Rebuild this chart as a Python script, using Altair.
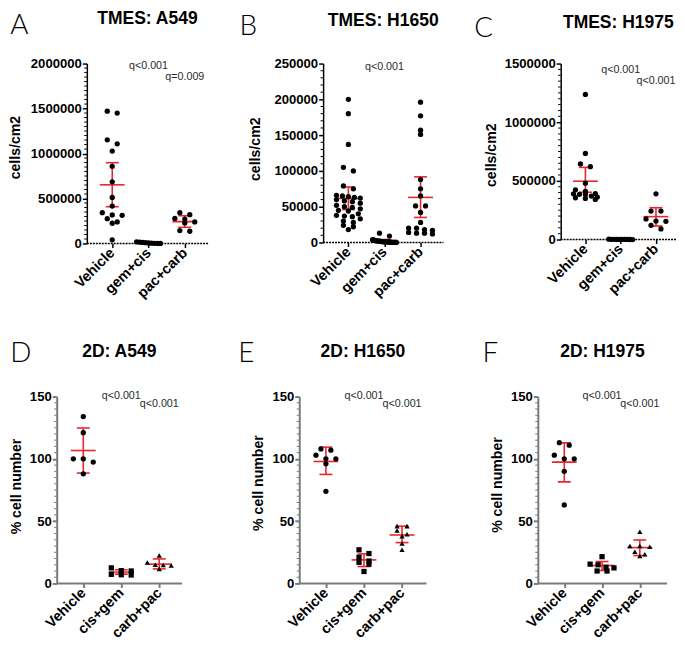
import json
import altair as alt
import pandas as pd

FONT = "Liberation Sans"
RED = "#e8262b"

# ---------------- data ----------------
tmes_groups = ["Vehicle", "gem+cis", "pac+carb"]
d2_groups = ["Vehicle", "cis+gem", "carb+pac"]

# A  TMES: A549 (cells/cm2)
a549_tmes_vehicle = [1470000, 1450000, 1152000, 1108000, 1028000, 858000, 685000, 512000,
                     416000, 342000, 317000, 313000, 276000, 240000, 225000, 41000]
a549_tmes_gemcis = [18000, 15000, 12000, 9000, 6000, 4000, 2000, 1000, 0]
a549_tmes_paccarb = [342000, 320000, 278000, 272000, 240000, 228000, 144000, 136000]
a549_tmes_mean = [652000, 6000, 243000]
a549_tmes_lo = [409000, 1000, 180000]
a549_tmes_hi = [898000, 11000, 309000]

# B  TMES: H1650
h1650_tmes_vehicle = [200000, 180000, 137000, 105000, 100000, 79000, 75000, 66000, 65000, 64000,
                      63000, 62000, 60000, 58000, 57000, 55000, 52000, 50000, 49000, 47000, 45000,
                      44000, 40000, 38000, 37000, 36000, 33000, 30000, 28000, 24000, 22000, 18000]
h1650_tmes_gemcis = [13000, 9000, 4000, 3500, 3000, 2500, 2200, 2000, 1800, 1500, 1300, 1200,
                     1000, 900, 800, 700, 600, 500, 400, 300, 200, 100, 50, 0]
h1650_tmes_paccarb = [196000, 177000, 157000, 151000, 88000, 75000, 65000, 51000, 51000, 42000,
                      28000, 20000, 20000, 18000, 17000, 14000, 13000, 13000, 12000]
h1650_tmes_mean = [61500, 2800, 63000]
h1650_tmes_lo = [46000, 1500, 35000]
h1650_tmes_hi = [77500, 4200, 91700]

# C  TMES: H1975
h1975_tmes_vehicle = [1237000, 734000, 644000, 621000, 480000, 424000, 410000, 392000, 390000,
                      385000, 384000, 370000, 362000, 356000, 350000, 342000]
h1975_tmes_gemcis = [3000, 2000, 1500, 1000, 800, 500, 300, 200, 100, 0]
h1975_tmes_paccarb = [390000, 242000, 242000, 175000, 157000, 155000, 121000, 90000]
h1975_tmes_mean = [497000, 1000, 195000]
h1975_tmes_lo = [403000, 0, 115000]
h1975_tmes_hi = [615000, 2000, 271000]

# D  2D: A549 (% cell number)
a549_2d_vehicle = [134, 121, 100, 100, 97.4, 88]
a549_2d_cisgem = [12.5, 10.3, 10.0, 7.3, 7.0, 6.8]
a549_2d_carbpac = [22.4, 16.8, 14.8, 14.4, 15.0, 11.7]
a549_2d_mean = [106.7, 9.2, 15.5]
a549_2d_lo = [88.6, 7.5, 11.7]
a549_2d_hi = [124.8, 11.0, 19.7]

# E  2D: H1650
h1650_2d_vehicle = [107, 108, 103, 100, 100, 96, 74]
h1650_2d_cisgem = [27, 24, 21, 18, 17, 15.5, 9.6]
h1650_2d_carbpac = [46, 46, 42.5, 39.5, 38, 32, 27]
h1650_2d_mean = [97.9, 18.9, 38.9]
h1650_2d_lo = [87.5, 13.6, 32.8]
h1650_2d_hi = [109.4, 23.7, 46.0]

# F  2D: H1975
h1975_2d_vehicle = [113, 111, 103, 100, 100, 90, 63]
h1975_2d_cisgem = [21.5, 15.5, 15, 13, 12.5, 10, 10]
h1975_2d_carbpac = [41.5, 30, 30, 29.5, 25.5, 23.5, 22]
h1975_2d_mean = [97.4, 14.4, 28.8]
h1975_2d_lo = [81.5, 10.4, 22.4]
h1975_2d_hi = [112.8, 17.6, 34.9]

q_top_a = ["q<0.001", "q=0.009"]
q_top_b = ["q<0.001"]
q_top_c = ["q<0.001", "q<0.001"]
q_bottom = ["q<0.001", "q<0.001"]


# ---------------- helpers ----------------
def swarm(values, px_per_val, row=4.0, step=10.0, half=12.0):
    """Deterministic beeswarm: group close values into rows, centre each row."""
    order = sorted(range(len(values)), key=lambda i: -values[i])
    offs = [0.0] * len(values)
    bins = []
    for i in order:
        y = values[i] * px_per_val
        if bins and (bins[-1][0] - y) <= row:
            bins[-1][1].append(i)
        else:
            bins.append([y, [i]])
    for _, idx in bins:
        n = len(idx)
        if n < 2:
            continue
        sp = min(step, 2 * half / (n - 1))
        for k, i in enumerate(idx):
            offs[i] = (k - (n - 1) / 2) * sp
    return offs


def panel(letter, title, groups, series, shapes, means, los, his, ymax, major, minor,
          ytitle, qlabels, qx, qdy, lay, top_row):
    w, h, ppc = lay["w"], lay["h"], lay["ppc"]
    inset = lay.get("inset", 0.0)     # empty strip left of the y axis (layout alignment)
    x0 = -0.7
    xmax = x0 + w / ppc
    xmin = x0 - inset / ppc
    ppy = h / ymax
    axc = "black" if top_row else "#7a7a7a"
    axw = 1.5 if top_row else 2

    rows = []
    for gi, vals in enumerate(series):
        offs = swarm(vals, ppy)
        for v, o in zip(vals, offs):
            rows.append({"x": gi + o / ppc, "y": v, "shape": shapes[gi]})
    df = pd.DataFrame(rows)

    xs = alt.Scale(domain=[xmin, xmax], nice=False, zero=False)
    ys = alt.Scale(domain=[0, ymax], nice=False)

    xaxis = alt.Axis(values=[0, 1, 2], labelExpr=json.dumps(groups) + "[datum.value]",
                     title=None, grid=False, domain=False, labelAngle=315, labelAlign="right",
                     labelBaseline="middle", labelFont=FONT, labelFontSize=14.5,
                     labelFontWeight="bold", labelColor="black", labelPadding=3,
                     tickSize=4, tickColor=axc, tickWidth=axw, labelFlush=False,
                     labelOverlap=False)
    majors = list(range(0, ymax + 1, major))
    yaxis = alt.Axis(values=majors, format="d", title=ytitle, grid=False, offset=-inset,
                     labelFont=FONT, labelFontSize=13.2, labelFontWeight="bold",
                     labelColor="black", labelPadding=1, tickSize=4.5, tickColor=axc,
                     tickWidth=axw, domainColor=axc, domainWidth=axw, labelFlush=False,
                     labelOverlap=False, titleFont=FONT, titleFontSize=14.2,
                     titleFontWeight="bold", titleColor="black", titleAngle=270,
                     titleAlign="center", titleBaseline="middle",
                     titleX=lay["ytx"], titleY=lay["yty"])

    def X(field):
        return alt.X(field, scale=xs, axis=xaxis)

    def Y(field):
        return alt.Y(field, scale=ys, axis=yaxis)

    # x-axis baseline (from the y axis to the right end)
    base_kw = dict(strokeDash=[2, 1]) if top_row else {}
    bl = alt.Chart(pd.DataFrame({"x": [x0], "x2": [xmax], "y": [0]})).mark_rule(
        color=axc, strokeWidth=axw, **base_kw).encode(x=X("x:Q"), x2="x2:Q", y=Y("y:Q"))

    pts = alt.Chart(df).mark_point(filled=True, opacity=1, color="black", size=28,
                                   strokeWidth=0).encode(
        x=X("x:Q"), y=Y("y:Q"), shape=alt.Shape("shape:N", scale=None))

    minors = [v for v in range(0, ymax + 1, minor) if v % major]
    mr = alt.Chart(pd.DataFrame({"y": minors})).mark_rule(color=axc, strokeWidth=1).encode(
        y=Y("y:Q"), x=alt.value(inset - 2.6), x2=alt.value(inset))

    edf = pd.DataFrame({"x": [0, 1, 2], "y": means, "lo": los, "hi": his})
    eb = alt.Chart(edf)
    vr = eb.mark_rule(color=RED, strokeWidth=1.6).encode(x=X("x:Q"), y=Y("lo:Q"), y2="hi:Q")
    mt = eb.mark_tick(orient="horizontal", size=25, thickness=1.6, color=RED, opacity=1).encode(
        x=X("x:Q"), y=Y("y:Q"))
    lc = eb.mark_tick(orient="horizontal", size=13, thickness=1.6, color=RED, opacity=1).encode(
        x=X("x:Q"), y=Y("lo:Q"))
    hc = eb.mark_tick(orient="horizontal", size=13, thickness=1.6, color=RED, opacity=1).encode(
        x=X("x:Q"), y=Y("hi:Q"))

    qdf = pd.DataFrame({"x": qx, "y": [ymax - d / ppy for d in qdy], "t": qlabels})
    qt = alt.Chart(qdf).mark_text(font=FONT, fontSize=10.8, color="#2b2b2b",
                                  align="center", baseline="middle").encode(
        x=X("x:Q"), y=Y("y:Q"), text="t:N")

    lt = alt.Chart(pd.DataFrame({"t": [letter]})).mark_text(
        font="Lato", fontWeight=300, fontSize=28, align="left", baseline="alphabetic",
        color="black").encode(text="t:N", x=alt.value(inset + lay["lx"]), y=alt.value(lay["ly"]))
    tt = alt.Chart(pd.DataFrame({"t": [title]})).mark_text(
        font=FONT, fontWeight="bold", fontSize=17.6, align="center", baseline="alphabetic",
        color="black").encode(text="t:N", x=alt.value(inset + w / 2), y=alt.value(lay["ty"]))

    return alt.layer(bl, mr, vr, mt, lc, hc, pts, qt, lt, tt).properties(
        width=w + inset, height=h)


# ---------------- layout ----------------
lay_a = dict(w=122, h=181, ppc=36.5, inset=30.3, lx=-77, ly=-30, ty=-39.5, ytx=-71.5, yty=84)
lay_b = dict(w=121, h=180, ppc=36.3, lx=-84, ly=-28.3, ty=-37.8, ytx=-67.6, yty=85.7)
lay_c = dict(w=116, h=177, ppc=35.5, lx=-87, ly=-26.3, ty=-35.8, ytx=-69.3, yty=91.7)
lay_d = dict(w=126, h=188, ppc=38.2, lx=-46.7, ly=-34.7, ty=-39.7, ytx=-40.7, yty=90)
lay_e = dict(w=128, h=188, ppc=38.3, lx=-61.3, ly=-34.7, ty=-39.7, ytx=-40.7, yty=86.5)
lay_f = dict(w=130, h=188, ppc=38.0, lx=-55.7, ly=-34.7, ty=-39.7, ytx=-41, yty=88.5)

circ3 = ["circle", "circle", "circle"]
mixed = ["circle", "square", "triangle-up"]

pA = panel("A", "TMES: A549", tmes_groups,
           [a549_tmes_vehicle, a549_tmes_gemcis, a549_tmes_paccarb], circ3,
           a549_tmes_mean, a549_tmes_lo, a549_tmes_hi, 2000000, 500000, 50000,
           "cells/cm2", q_top_a, [1, 2], [2.5, 14], lay_a, True)
pB = panel("B", "TMES: H1650", tmes_groups,
           [h1650_tmes_vehicle, h1650_tmes_gemcis, h1650_tmes_paccarb], circ3,
           h1650_tmes_mean, h1650_tmes_lo, h1650_tmes_hi, 250000, 50000, 10000,
           "cells/cm2", q_top_b, [1], [3.7], lay_b, True)
pC = panel("C", "TMES: H1975", tmes_groups,
           [h1975_tmes_vehicle, h1975_tmes_gemcis, h1975_tmes_paccarb], circ3,
           h1975_tmes_mean, h1975_tmes_lo, h1975_tmes_hi, 1500000, 500000, 50000,
           "cells/cm2", q_top_c, [1, 2], [6, 17.7], lay_c, True)
pD = panel("D", "2D: A549", d2_groups,
           [a549_2d_vehicle, a549_2d_cisgem, a549_2d_carbpac], mixed,
           a549_2d_mean, a549_2d_lo, a549_2d_hi, 150, 50, 5,
           "% cell number", q_bottom, [1, 2], [-0.7, 7.8], lay_d, False)
pE = panel("E", "2D: H1650", d2_groups,
           [h1650_2d_vehicle, h1650_2d_cisgem, h1650_2d_carbpac], mixed,
           h1650_2d_mean, h1650_2d_lo, h1650_2d_hi, 150, 50, 5,
           "% cell number", q_bottom, [1, 2], [-0.7, 7.8], lay_e, False)
pF = panel("F", "2D: H1975", d2_groups,
           [h1975_2d_vehicle, h1975_2d_cisgem, h1975_2d_carbpac], mixed,
           h1975_2d_mean, h1975_2d_lo, h1975_2d_hi, 150, 50, 5,
           "% cell number", q_bottom, [1, 2], [-0.7, 7.8], lay_f, False)

row1 = alt.hconcat(pA, pB, pC, spacing=30)
row2 = alt.hconcat(pD, pE, pF, spacing=55)
chart = alt.vconcat(row1, row2, spacing=40).properties(
    padding=0, background="white").configure_view(stroke=None)

chart.save("out.html", embed_options={"renderer": "svg", "actions": False})
